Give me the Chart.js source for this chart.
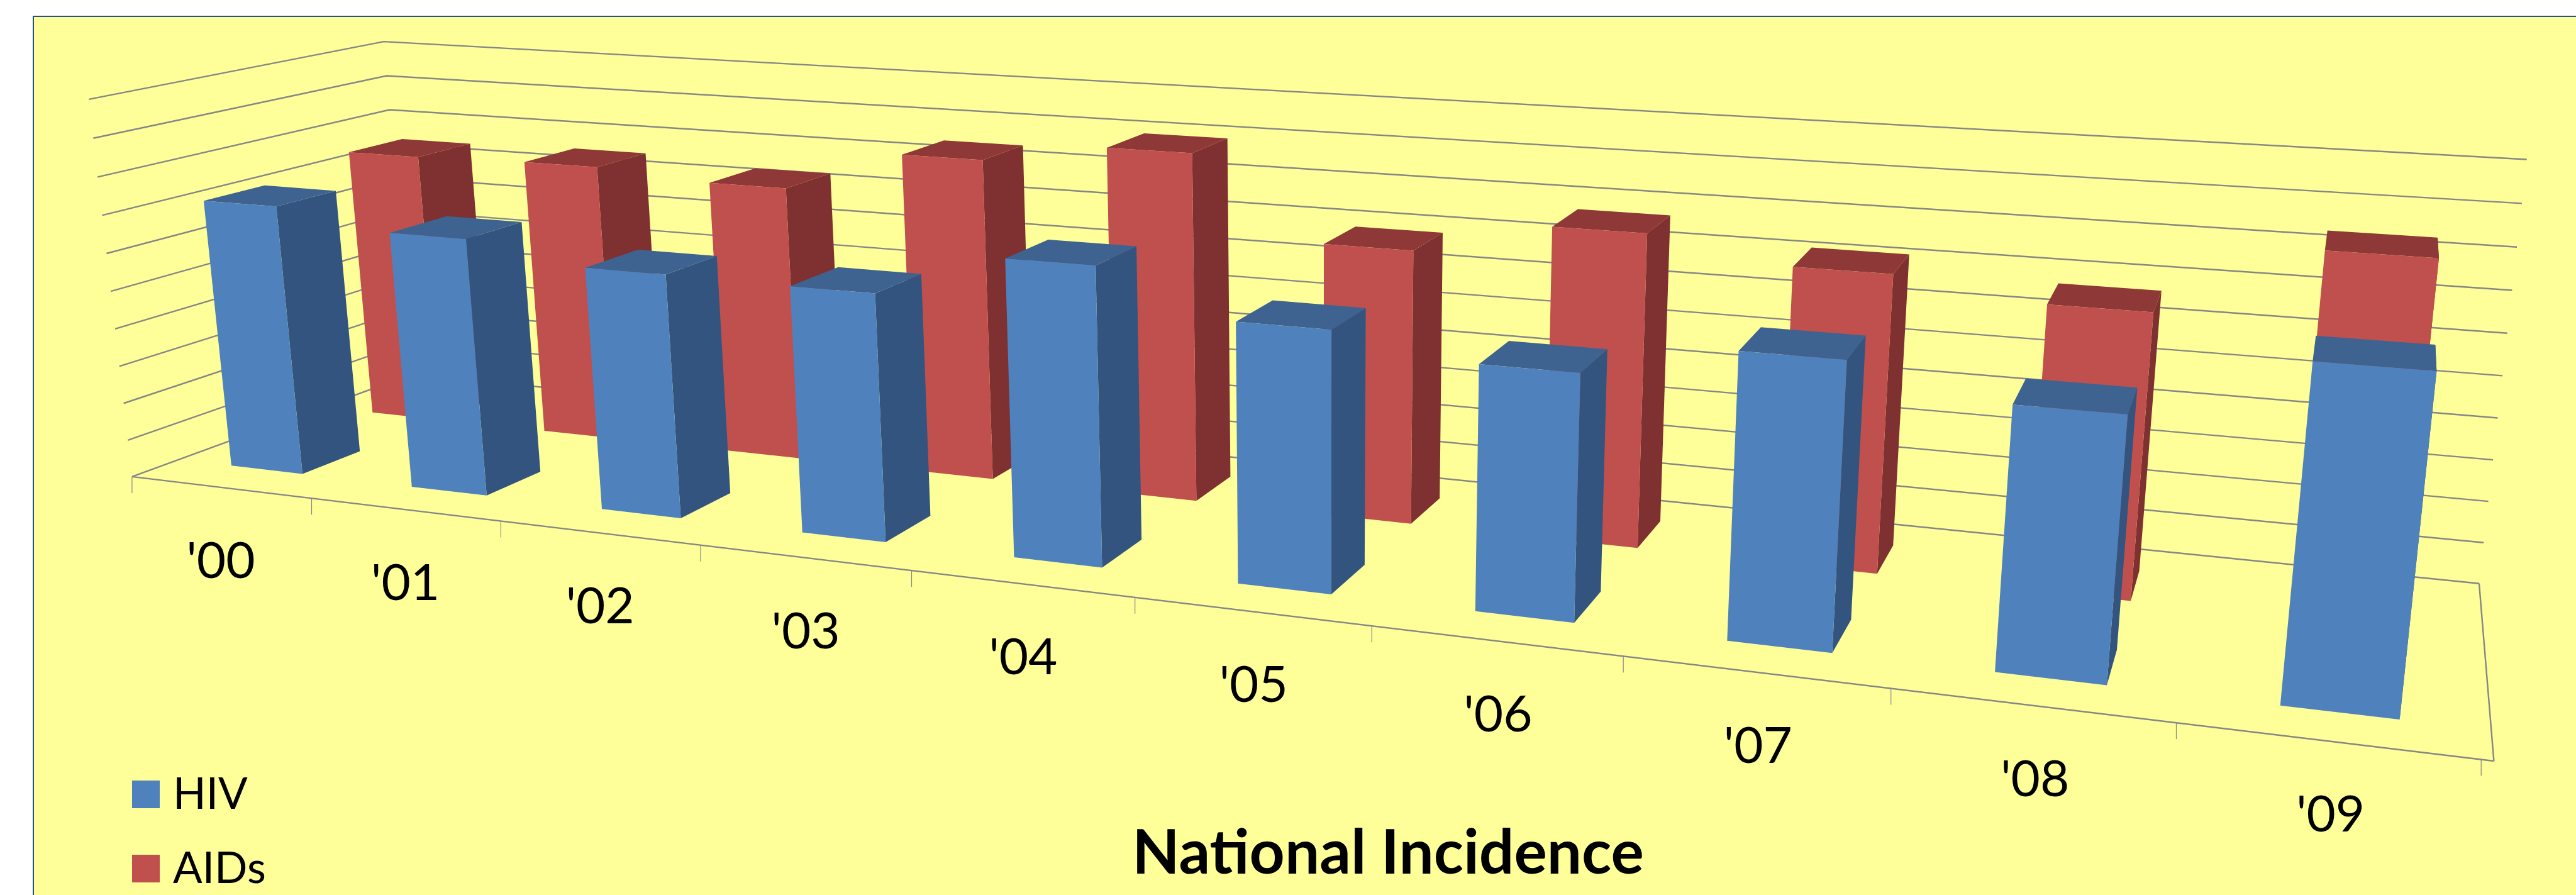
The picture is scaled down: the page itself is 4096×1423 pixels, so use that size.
<!DOCTYPE html>
<html lang="en">
<head>
    <meta charset="UTF-8">
    <title>National Incidence</title>
    <script src="https://cdn.jsdelivr.net/npm/chart.js"></script>
    <style>
        html, body {
            margin: 0;
            background: #fff;
            overflow: hidden;
        }
        canvas {
            display: block;
        }
    </style>
</head>
<body>
    <canvas id="incidenceChart" width="4096" height="1423"></canvas>

    <script>
        const years = ["'00", "'01", "'02", "'03", "'04", "'05", "'06", "'07", "'08", "'09"];
        const hivValues = [7.18, 6.73, 6.25, 6.22, 7.32, 6.27, 5.77, 6.56, 5.90, 7.32];
        const aidsValues = [7.51, 7.58, 7.37, 8.47, 8.99, 6.94, 7.77, 7.22, 6.78, 8.43];

        const SCALE = 4096 / 4956;

        // Camera for the box: u runs along the years, v up the value axis, w into the depth.
        const camera = {
            ox: 254, oy: 917,
            ux: 3315.7, uy: 172.2, uh: -0.256,
            vx: -89, vy: -732.7, vh: -0.035,
            wx: 651.4, wy: -95.8, wh: 0.141
        };

        function project(u, v, w) {
            const h = 1 + u * camera.uh + v * camera.vh + w * camera.wh;
            return {
                x: SCALE * (camera.ox + u * camera.ux + v * camera.vx + w * camera.wx) / h,
                y: SCALE * (camera.oy + u * camera.uy + v * camera.vy + w * camera.wy) / h
            };
        }

        function line(ctx, a, b) {
            ctx.beginPath();
            ctx.moveTo(a.x, a.y);
            ctx.lineTo(b.x, b.y);
            ctx.stroke();
        }

        function face(ctx, color, points) {
            ctx.fillStyle = color;
            ctx.beginPath();
            points.forEach((p, i) => i ? ctx.lineTo(p.x, p.y) : ctx.moveTo(p.x, p.y));
            ctx.closePath();
            ctx.fill();
        }

        // Each series gets one row of the depth axis, its bars fill 40% of the row
        const depthRows = [{ front: 0.15, back: 0.35 }, { front: 0.65, back: 0.85 }];
        const faceColors = [
            { front: '#4F81BD', side: '#32547E', top: '#3E6391' },
            { front: '#C0504D', side: '#7E3130', top: '#8E3838' }
        ];

        const box3d = {
            id: 'box3d',

            beforeDraw(chart) {
                const ctx = chart.ctx;
                ctx.save();
                ctx.fillStyle = '#fff';
                ctx.fillRect(0, 0, chart.width, chart.height);
                ctx.fillStyle = '#FFFF99';
                ctx.fillRect(53, 26, chart.width, chart.height);
                ctx.strokeStyle = '#22508A';
                ctx.lineWidth = 2;
                ctx.strokeRect(53, 26, chart.width, chart.height);
                ctx.restore();
            },

            // Walls and floor, behind the bars
            beforeDatasetsDraw(chart) {
                const ctx = chart.ctx;
                const y = chart.scales.y;
                const area = chart.chartArea;
                ctx.save();
                ctx.strokeStyle = '#868686';
                ctx.lineWidth = 2.4;
                y.ticks.forEach(tick => {
                    const v = (area.bottom - y.getPixelForValue(tick.value)) / area.height;
                    const back = project(0, v, 1);
                    ctx.beginPath();
                    const front = project(0, v, 0);
                    const right = project(1, v, 1);
                    ctx.moveTo(front.x, front.y);
                    ctx.lineTo(back.x, back.y);
                    ctx.lineTo(right.x, right.y);
                    ctx.stroke();
                });
                line(ctx, project(0, 0, 0), project(1, 0, 0));
                line(ctx, project(1, 0, 0), project(1, 0, 1));
                ctx.restore();
            },

            beforeDatasetDraw(chart, args) {
                const ctx = chart.ctx;
                const area = chart.chartArea;
                const row = depthRows[args.index];
                const colors = faceColors[args.index];
                args.meta.data.forEach(bar => {
                    const u0 = (bar.x - bar.width / 2 - area.left) / area.width;
                    const u1 = (bar.x + bar.width / 2 - area.left) / area.width;
                    const v = (area.bottom - bar.y) / area.height;
                    face(ctx, colors.side, [
                        project(u1, 0, row.front), project(u1, 0, row.back),
                        project(u1, v, row.back), project(u1, v, row.front)
                    ]);
                    face(ctx, colors.top, [
                        project(u0, v, row.front), project(u1, v, row.front),
                        project(u1, v, row.back), project(u0, v, row.back)
                    ]);
                    face(ctx, colors.front, [
                        project(u0, 0, row.front), project(u1, 0, row.front),
                        project(u1, v, row.front), project(u0, v, row.front)
                    ]);
                });
                return false;
            },

            // Tick marks, year labels and the legend go on top of everything
            afterDatasetsDraw(chart) {
                const ctx = chart.ctx;
                const x = chart.scales.x;
                const area = chart.chartArea;
                ctx.save();
                ctx.strokeStyle = '#868686';
                ctx.lineWidth = 1.2;
                for (let i = 0; i <= years.length; i++) {
                    const p = project(0.996 * i / years.length, 0, 0);
                    line(ctx, p, { x: p.x, y: p.y + 26 });
                }
                ctx.fillStyle = '#000';
                ctx.font = '80px Lato';
                ctx.textAlign = 'center';
                ctx.textBaseline = 'middle';
                years.forEach((label, i) => {
                    const u = (x.getPixelForValue(i) - area.left) / area.width;
                    const p = project(0.9975 * u, 0, 0);
                    ctx.fillText(label, p.x, p.y + 118);
                });

                ctx.font = '69px Lato';
                ctx.textAlign = 'left';
                ctx.textBaseline = 'alphabetic';
                chart.data.datasets.forEach((ds, i) => {
                    const top = 1241 + i * 118;
                    ctx.fillStyle = ds.backgroundColor;
                    ctx.fillRect(210, top, 44, 44);
                    ctx.fillStyle = '#000';
                    ctx.fillText(ds.label, 275, top + 45);
                });
                ctx.restore();
            }
        };

        new Chart(document.getElementById('incidenceChart'), {
            type: 'bar',
            plugins: [box3d],
            data: {
                labels: years,
                datasets: [
                    { label: 'HIV', data: hivValues, backgroundColor: '#4F81BD', borderWidth: 0 },
                    { label: 'AIDs', data: aidsValues, backgroundColor: '#C0504D', borderWidth: 0 }
                ]
            },
            options: {
                responsive: false,
                animation: false,
                layout: {
                    padding: { left: 318, right: 0, top: 0, bottom: 7 }
                },
                datasets: {
                    bar: { grouped: false, barPercentage: 0.4, categoryPercentage: 1 }
                },
                scales: {
                    x: { display: false },
                    y: { display: false, min: 0, max: 10, ticks: { stepSize: 1 } }
                },
                plugins: {
                    tooltip: { enabled: false },
                    legend: { display: false },
                    title: {
                        display: true,
                        text: 'National Incidence',
                        position: 'bottom',
                        fullSize: false,
                        color: '#000',
                        font: { family: 'Lato', size: 98, weight: 'bold' },
                        padding: 0
                    }
                }
            }
        });
    </script>
</body>
</html>
